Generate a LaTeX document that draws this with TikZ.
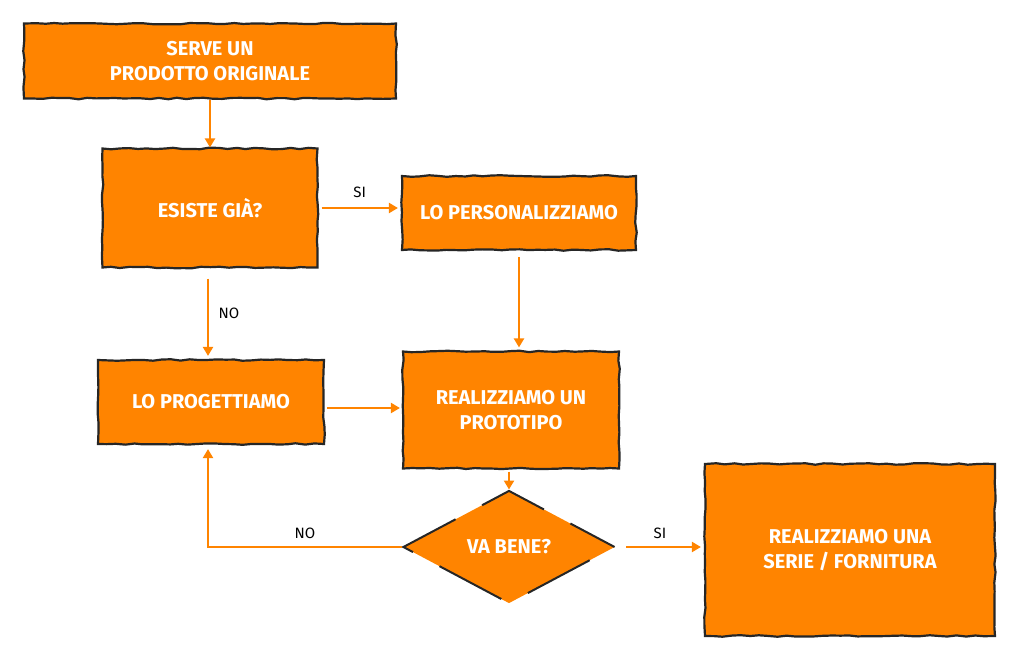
\documentclass[tikz,border=0pt]{standalone}
\usepackage{fontspec}
\setmainfont{Fira Sans}
\usetikzlibrary{shapes.geometric,arrows.meta,decorations.pathmorphing}
\definecolor{arancio}{HTML}{FF8400}

\begin{document}
\begin{tikzpicture}[x=1pt, y=-1pt,
  schizzo/.style={decorate, decoration={random steps, segment length=9pt, amplitude=0.8pt}},
  box/.style={rectangle, fill=arancio, draw=black!85, line width=2.2pt, schizzo,
    text=white, font=\bfseries\fontsize{20}{25}\selectfont, align=center, inner sep=0pt},
  rombo/.style={diamond, fill=arancio, draw=black!85, line width=2pt,
    dash pattern=on 70pt off 30pt, dash phase=20pt,
    text=white, font=\bfseries\fontsize{20}{25}\selectfont, inner sep=0pt},
  freccia/.style={draw=arancio, line width=2.5pt, -{Triangle[length=9pt,width=10pt]}},
  etichetta/.style={font=\fontsize{15}{17}\selectfont, text=black}]

  \useasboundingbox (0,0) rectangle (1024,661);

  % blocchi
  \node[box, minimum width=372pt, minimum height=75pt] (serve) at (210,61) {SERVE UN\\PRODOTTO ORIGINALE};
  \node[box, minimum width=215pt, minimum height=119pt] (esiste) at (210,208) {ESISTE GIÀ?};
  \node[box, minimum width=234pt, minimum height=74pt] (personal) at (519,213) {LO PERSONALIZZIAMO};
  \node[box, minimum width=226pt, minimum height=84pt] (progett) at (211,402) {LO PROGETTIAMO};
  \node[box, minimum width=216pt, minimum height=117pt] (proto) at (511,410) {REALIZZIAMO UN\\PROTOTIPO};
  \node[rombo, minimum width=212pt, minimum height=113pt] (bene) at (509,547) {VA BENE?};
  \node[box, minimum width=290pt, minimum height=172pt] (serie) at (850,550) {REALIZZIAMO UNA\\SERIE / FORNITURA};

  % frecce
  \draw[freccia] (serve) -- (esiste);
  \draw[freccia, shorten <=3pt, shorten >=3pt] (esiste.east) -- (esiste.east -| personal.west)
    node[midway, above=6pt, etichetta] {SI};
  \draw[freccia, shorten <=10pt, shorten >=3pt] ([xshift=-2pt]esiste.south) -- ([xshift=-2pt]esiste.south |- progett.north)
    node[midway, right=6pt, etichetta] {NO};
  \draw[freccia, shorten <=6pt, shorten >=3pt] (personal.south) -- (personal.south |- proto.north);
  \draw[freccia, shorten <=2pt, shorten >=2pt] ([yshift=-6pt]progett.east) -- ([yshift=-6pt]progett.east -| proto.west);
  \draw[freccia, shorten <=2pt] (proto.south -| bene.north) -- (bene.north);
  \draw[freccia, shorten >=4pt] (bene.west) -| ([xshift=-3pt]progett.south)
    node[pos=0.25, above=4pt, etichetta] {NO};
  \draw[freccia, shorten <=10pt, shorten >=3pt] (bene.east) -- (bene.east -| serie.west)
    node[midway, above=4pt, etichetta] {SI};

\end{tikzpicture}
\end{document}
